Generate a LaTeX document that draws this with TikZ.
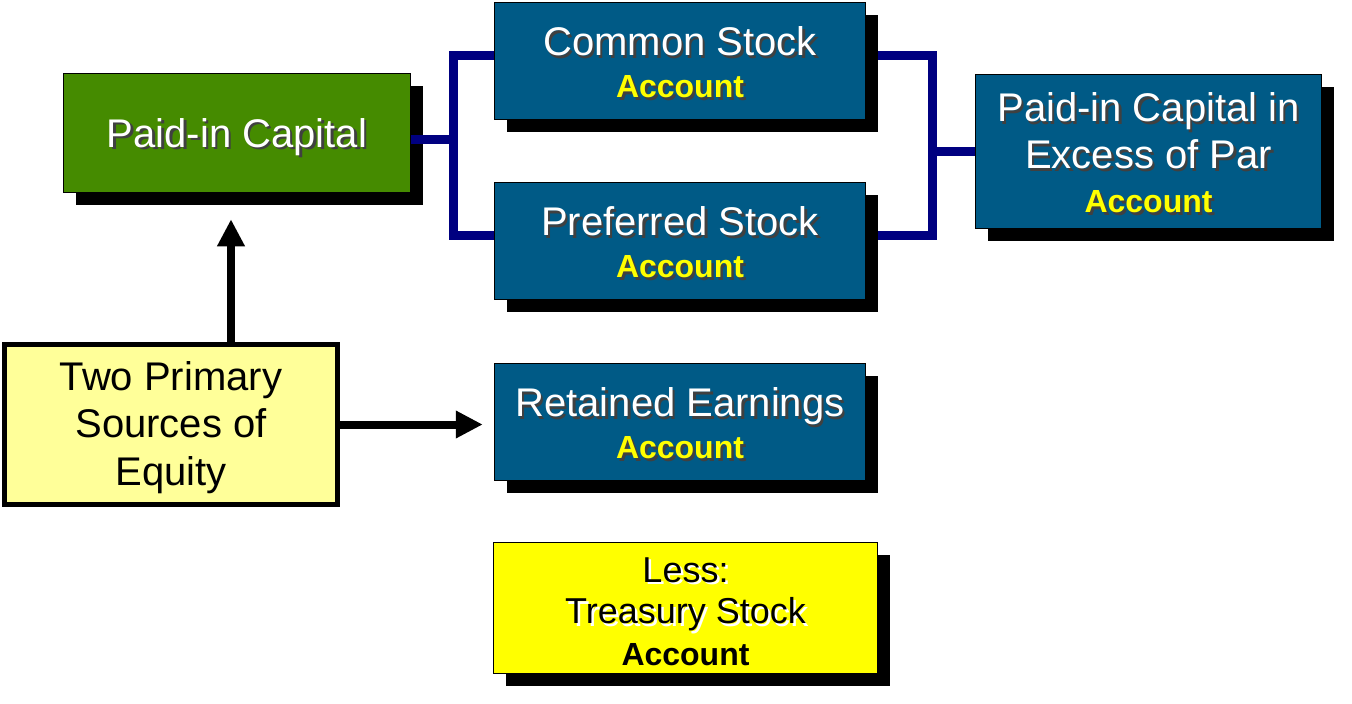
\documentclass[tikz,border=0pt]{standalone}
\usepackage{fontspec}
\setmainfont{Liberation Sans}
\usetikzlibrary{arrows.meta,positioning,shadows}
\definecolor{acctblue}{RGB}{0,90,134}
\definecolor{capgreen}{RGB}{69,139,0}
\definecolor{acctyellow}{RGB}{255,255,0}
\definecolor{srcyellow}{RGB}{255,255,153}
\definecolor{navyline}{RGB}{0,0,128}
\newcommand{\txtsh}[2][black!75]{\leavevmode\rlap{\kern2.5pt\raisebox{-2.5pt}{\color{#1}#2}}#2}
\newcommand{\topstrut}[1][34pt]{\rule{0pt}{#1}}
\newcommand{\acctline}{{\color{acctyellow}\fontsize{32}{41}\selectfont\bfseries\txtsh{Account}}}

\begin{document}
\begin{tikzpicture}[x=1pt, y=-1pt,
    shbox/.style={draw=black, line width=1.5pt, inner sep=0pt, align=center,
      font=\fontsize{40}{42}\selectfont,
      drop shadow={shadow xshift=12pt, shadow yshift=-12pt, fill=black, opacity=1}},
    acctbox/.style={shbox, fill=acctblue, text=white, minimum width=371pt, minimum height=117pt},
    bracket/.style={draw=navyline, line width=9pt},
    arrow/.style={-{Triangle[length=27pt,width=26pt]}, line width=8pt}]
      \useasboundingbox (0,0) rectangle (1352,704);

      \node[shbox, fill=capgreen, text=white, minimum width=347pt, minimum height=119pt, text depth=0pt] (paidin) at (237,133) {\txtsh{Paid-in Capital}};
      \node[acctbox] (common) at (680,61) {\topstrut\txtsh{Common Stock}\\ \acctline};
      \node[acctbox] (preferred) at (680,241) {\topstrut\txtsh{Preferred Stock}\\ \acctline};
      \node[acctbox] (retained) at (680,422) {\topstrut\txtsh{Retained Earnings}\\ \acctline};
      \node[acctbox, minimum width=346pt, minimum height=154pt] (excess) at (1148.5,151.5) {\topstrut\txtsh{Paid-in Capital in}\\[5pt] \txtsh{Excess of Par}\\[2pt] \acctline};
      \node[shbox, fill=acctyellow, text=black, minimum width=384pt, minimum height=131pt, font=\fontsize{36}{41.5}\selectfont] (treasury) at (685.5,608) {\topstrut[32pt]\txtsh[white]{Less:}\\ \txtsh[white]{Treasury Stock}\\ {\fontsize{32}{41.5}\selectfont\bfseries Account}};
      \node[draw=black, line width=5pt, fill=srcyellow, minimum width=333pt, minimum height=160pt, text depth=2pt, align=center, font=\fontsize{40}{47.5}\selectfont] (sources) at (171,424.5) {Two Primary\\ Sources of\\ Equity};

      % brackets
      \coordinate (lbr) at (453,139);
      \coordinate (rbr) at (932,151.5);
      \draw[bracket] ([yshift=6pt]common.west) -| (lbr) |- ([yshift=6pt]preferred.west);
      \draw[bracket] ([yshift=-6pt]paidin.east) -- (lbr);
      \draw[bracket] ([xshift=12pt,yshift=6pt]common.east) -| (rbr) |- ([xshift=12pt,yshift=6pt]preferred.east);
      \draw[bracket] (rbr) -- (excess.west);

      % arrows
      \coordinate (tip) at ([xshift=-11pt]retained.west);
      \draw[arrow] ([xshift=60pt]sources.north) -- ([xshift=-6pt,yshift=-26pt]paidin.south);
      \draw[arrow] (sources.east) -- (sources.east -| tip);
    \end{tikzpicture}
\end{document}
